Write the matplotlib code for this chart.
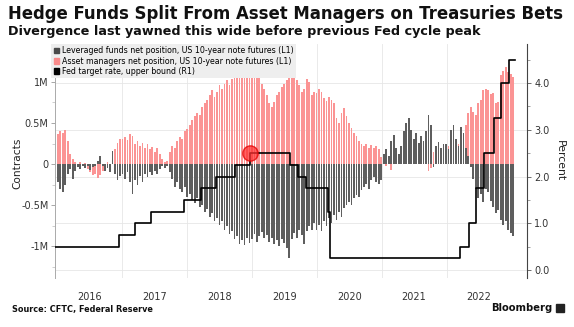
import numpy as np
import pandas as pd
import matplotlib
matplotlib.use('Agg')
import matplotlib.pyplot as plt
import matplotlib.dates as mdates
from matplotlib.patches import Patch
from matplotlib.transforms import blended_transform_factory

# biweekly net positions, millions of contracts
lev_funds = [
    # 2016
    -0.22, -0.30, -0.34, -0.26, -0.12, -0.06, -0.18, -0.08, -0.04, -0.06, -0.02, -0.05, -0.03,
    -0.07, -0.04, -0.02, 0.04, 0.10, -0.03, -0.08, -0.05, -0.10, 0.16, -0.12, -0.20, -0.15,
    # 2017
    -0.12, -0.18, -0.10, -0.22, -0.36, -0.20, -0.25, -0.15, -0.22, -0.12, -0.16, -0.10, -0.14,
    -0.08, -0.12, -0.06, -0.03, -0.05, -0.02, -0.10, -0.18, -0.28, -0.22, -0.30, -0.34, -0.28,
    # 2018
    -0.40, -0.36, -0.44, -0.48, -0.42, -0.52, -0.50, -0.58, -0.55, -0.64, -0.60, -0.70, -0.66,
    -0.74, -0.70, -0.80, -0.76, -0.85, -0.82, -0.92, -0.88, -0.97, -0.93, -0.99, -0.90, -0.96,
    # 2019
    -0.92, -0.85, -0.95, -0.88, -0.83, -0.90, -0.86, -0.95, -0.90, -0.98, -0.93, -1.00, -0.92,
    -0.96, -1.02, -1.15, -0.92, -0.84, -0.90, -0.80, -0.86, -0.98, -0.82, -0.76, -0.80, -0.72,
    # 2020
    -0.80, -0.74, -0.82, -0.70, -0.76, -0.66, -0.72, -0.62, -0.68, -0.58, -0.64, -0.54, -0.50,
    -0.46, -0.50, -0.42, -0.38, -0.40, -0.32, -0.28, -0.24, -0.30, -0.20, -0.16, -0.22, -0.24,
    # 2021
    -0.20, 0.12, 0.18, 0.10, 0.28, 0.35, 0.20, 0.12, 0.22, 0.40, 0.50, 0.56, 0.42,
    0.30, 0.38, 0.26, 0.34, 0.28, 0.40, 0.60, 0.48, -0.04, 0.22, 0.27, 0.20, 0.25,
    # 2022
    0.24, 0.18, 0.42, 0.47, 0.30, 0.22, 0.45, 0.38, 0.20, 0.10, -0.04, -0.18, -0.30,
    -0.42, -0.36, -0.46, -0.30, -0.34, -0.45, -0.52, -0.60, -0.56, -0.68, -0.74, -0.70, -0.80,
    # 2023
    -0.84, -0.88,
]
asset_mgrs = [
    # 2016
    0.36, 0.40, 0.38, 0.42, 0.28, 0.12, 0.06, 0.03, -0.02, 0.02, -0.03, 0.01, -0.06,
    -0.10, -0.14, -0.12, -0.17, -0.13, -0.08, -0.04, 0.02, -0.02, 0.05, 0.18, 0.26, 0.30,
    # 2017
    0.30, 0.33, 0.29, 0.36, 0.34, 0.25, 0.28, 0.22, 0.26, 0.20, 0.24, 0.18, 0.21,
    0.15, 0.19, 0.12, 0.06, 0.02, 0.04, 0.15, 0.22, 0.19, 0.28, 0.33, 0.30, 0.40,
    # 2018
    0.43, 0.48, 0.54, 0.58, 0.62, 0.60, 0.70, 0.74, 0.78, 0.84, 0.90, 0.82, 0.88,
    0.96, 0.92, 0.98, 1.02, 0.96, 1.04, 1.09, 1.06, 1.13, 1.16, 1.10, 1.19, 1.21,
    # 2019
    1.20, 1.15, 1.10, 1.06, 0.98, 0.92, 0.84, 0.74, 0.70, 0.76, 0.84, 0.88, 0.94,
    0.98, 1.02, 1.06, 1.13, 1.09, 1.02, 0.96, 0.88, 0.92, 1.04, 1.00, 0.84, 0.88,
    # 2020
    0.86, 0.92, 0.88, 0.80, 0.77, 0.82, 0.78, 0.74, 0.56, 0.50, 0.62, 0.68, 0.58,
    0.50, 0.44, 0.38, 0.34, 0.28, 0.25, 0.22, 0.24, 0.20, 0.23, 0.19, 0.22, 0.18,
    # 2021
    0.08, 0.04, -0.02, 0.02, -0.07, 0.06, 0.10, 0.08, 0.12, 0.06, 0.10, 0.14, 0.08,
    0.12, 0.15, 0.11, 0.14, 0.22, 0.12, -0.08, -0.05, 0.15, 0.18, 0.20, 0.16, 0.21,
    # 2022
    0.20, 0.22, 0.26, 0.24, 0.28, 0.25, 0.30, 0.27, 0.48, 0.62, 0.70, 0.64, 0.60,
    0.74, 0.78, 0.90, 0.92, 0.90, 0.85, 0.86, 0.74, 0.76, 1.08, 1.14, 1.18, 1.12,
    # 2023
    1.10, 1.06,
]
dates = pd.date_range('2016-01-05', periods=len(lev_funds), freq='14D')

fed_dates = pd.to_datetime([
    '2015-12-20', '2016-12-15', '2017-03-16', '2017-06-15', '2017-12-14', '2018-03-22',
    '2018-06-14', '2018-09-27', '2018-12-20', '2019-08-01', '2019-09-19', '2019-10-31',
    '2020-03-04', '2020-03-16', '2022-03-17', '2022-05-05', '2022-06-16', '2022-07-28',
    '2022-09-22', '2022-11-03', '2022-12-15', '2023-01-20'])
fed_rates = [0.5, 0.75, 1.0, 1.25, 1.5, 1.75, 2.0, 2.25, 2.5, 2.25, 2.0, 1.75,
             1.25, 0.25, 0.5, 1.0, 1.75, 2.5, 3.25, 4.0, 4.5, 4.5]
peak_date = pd.Timestamp('2018-12-20')
peak_rate = 2.5

years = [2016, 2017, 2018, 2019, 2020, 2021, 2022]

fig = plt.figure(figsize=(5.74, 3.27), dpi=100)
ax = fig.add_axes([0.0958, 0.1498, 0.823, 0.7156])
ax2 = ax.twinx()

pink = '#fb9494'
grey = '#5e5e5e'
ax.bar(dates, asset_mgrs, width=10, color=pink, linewidth=0, zorder=2)
ax.bar(dates, lev_funds, width=10, color=grey, linewidth=0, zorder=3)

ax.set_xlim(pd.Timestamp('2015-12-20'), pd.Timestamp('2023-03-31'))
ax.set_ylim(-1.39, 1.463)
ax2.set_ylim(-0.171, 4.834)

# horizontal grid follows the right axis, drawn behind the bars
tr = blended_transform_factory(ax.transAxes, ax2.transData)
for r in range(5):
    ax.plot([0, 1], [r, r], transform=tr, color='#e6e6e6', lw=0.6, zorder=0)
for y in years[1:]:
    ax.axvline(pd.Timestamp(f'{y}-01-01'), color='#e6e6e6', lw=0.6, zorder=0)

ax2.plot(fed_dates, fed_rates, drawstyle='steps-post', color='black', lw=1.2, zorder=4)
ax2.plot([peak_date], [peak_rate], 'o', ms=11, color='#ff3030', alpha=0.75,
         mec='#e00000', mew=1, zorder=5)

# x axis: year labels at mid-year
ax.xaxis.set_major_locator(mdates.YearLocator())
ax.xaxis.set_major_formatter(plt.NullFormatter())
ax.xaxis.set_minor_locator(mdates.MonthLocator(bymonth=7, bymonthday=1))
ax.xaxis.set_minor_formatter(mdates.DateFormatter('%Y'))
ax.tick_params(axis='x', which='both', length=0, pad=10, labelsize=7, labelcolor='#333333')

ax.set_yticks([-1, -0.5, 0, 0.5, 1])
ax.set_yticklabels(['-1M', '-0.5M', '0', '0.5M', '1M'])
ax.set_yticks([-1.25, -0.75, -0.25, 0.25, 0.75, 1.25], minor=True)
ax.tick_params(axis='y', which='major', length=3, width=0.6, color='#999999',
               labelsize=7, labelcolor='#333333', pad=1.5)
ax.tick_params(axis='y', which='minor', length=2, width=0.5, color='#bbbbbb')

ax2.set_yticks([0, 1, 2, 3, 4])
ax2.set_yticklabels(['0.0', '1.0', '2.0', '3.0', '4.0'])
ax2.set_yticks([0.5, 1.5, 2.5, 3.5, 4.5], minor=True)
ax2.tick_params(axis='y', which='major', length=3, width=0.6, color='#555555',
                labelsize=7, labelcolor='#333333', pad=2)
ax2.tick_params(axis='y', which='minor', length=2, width=0.5, color='#777777')

for a in (ax, ax2):
    a.spines['top'].set_visible(False)
    a.spines['bottom'].set_visible(False)
ax.spines['right'].set_visible(False)
ax.spines['left'].set_color('#aaaaaa')
ax.spines['left'].set_linewidth(0.7)
ax2.spines['left'].set_visible(False)
ax2.spines['right'].set_color('#444444')
ax2.spines['right'].set_linewidth(0.8)

handles = [
    Patch(color='#4a4a4a', label='Leveraged funds net position, US 10-year note futures (L1)'),
    Patch(color='#f98a8a', label='Asset managers net position, US 10-year note futures (L1)'),
    Patch(color='black', label='Fed target rate, upper bound (R1)'),
]
leg = ax2.legend(handles=handles, loc='upper left', bbox_to_anchor=(-0.008, 1.0),
                 fontsize=5.7, frameon=True, fancybox=False, framealpha=1,
                 handlelength=0.7, handleheight=0.7, handletextpad=0.3,
                 labelspacing=0.15, borderpad=0.3, borderaxespad=0)
leg.get_frame().set_facecolor('#eeeeee')
leg.get_frame().set_edgecolor('none')
leg.set_zorder(10)

fig.text(0.0296, 0.502, 'Contracts', rotation=90, ha='center', va='center',
         fontsize=7.6, color='#222222')
fig.text(0.976, 0.51, 'Percent', rotation=270, ha='center', va='center',
         fontsize=7.8, color='#222222')

fig.text(0.014, 0.957, 'Hedge Funds Split From Asset Managers on Treasuries Bets',
         fontsize=11.9, fontweight='bold', ha='left', va='center', color='#111111')
fig.text(0.014, 0.905, 'Divergence last yawned this wide before previous Fed cycle peak',
         fontsize=9.2, fontweight='bold', ha='left', va='center', color='#111111')
fig.text(0.021, 0.055, 'Source: CFTC, Federal Reserve', fontsize=5.9,
         fontweight='bold', ha='left', va='center', color='#111111')
fig.text(0.962, 0.058, 'Bloomberg', fontsize=7.2, fontweight='bold',
         ha='right', va='center', color='#111111')
fig.patches.append(plt.Rectangle((0.968, 0.045), 0.014, 0.026, transform=fig.transFigure,
                                 color='#222222', figure=fig))

fig.savefig('out.png', dpi=100)
